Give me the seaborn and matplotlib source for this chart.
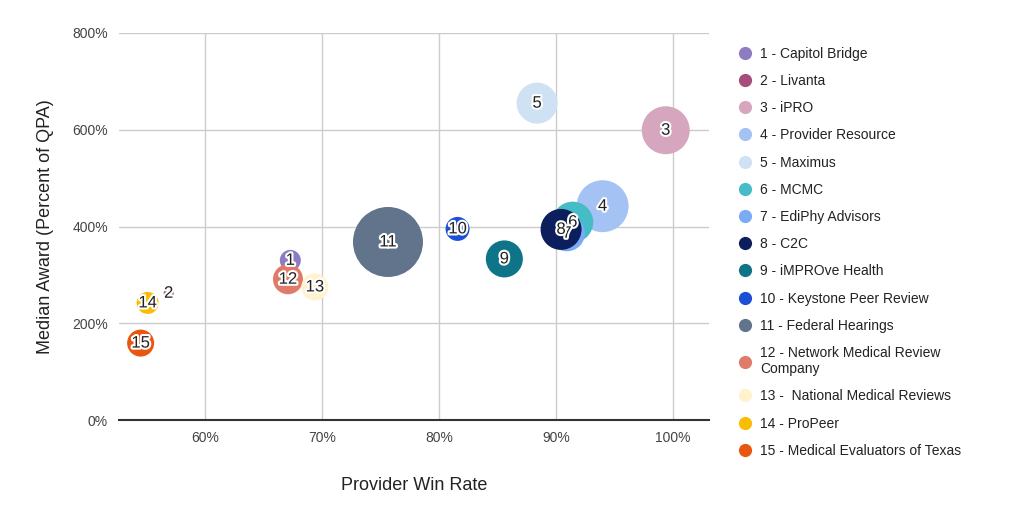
import matplotlib
matplotlib.use("Agg")
import matplotlib.pyplot as plt
import matplotlib.patheffects as pe
from matplotlib.lines import Line2D
from matplotlib.ticker import FuncFormatter
import seaborn as sns
import pandas as pd

# ---- data ----
ids = [str(i) for i in range(1, 16)]
names = [
    "1 - Capitol Bridge", "2 - Livanta", "3 - iPRO", "4 - Provider Resource",
    "5 - Maximus", "6 - MCMC", "7 - EdiPhy Advisors", "8 - C2C",
    "9 - iMPROve Health", "10 - Keystone Peer Review", "11 - Federal Hearings",
    "12 - Network Medical Review\nCompany", "13 -  National Medical Reviews",
    "14 - ProPeer", "15 - Medical Evaluators of Texas",
]
win_rate = [67.3, 56.9, 99.4, 94.0, 88.4, 91.45, 90.95, 90.45, 85.6, 81.6, 75.65, 67.1, 69.4, 55.1, 54.5]
median_award = [330, 262, 599, 442, 655, 409, 386, 394, 333, 395, 368, 291, 275, 242, 159]
bubble_size = [441, 100, 2300, 2700, 1680, 1680, 1300, 1680, 1370, 576, 4900, 900, 730, 484, 730]
colors = ["#8e7cc3", "#a64d79", "#d5a6bd", "#a4c2f4", "#cfe2f3", "#46bdc6", "#7baaf7",
          "#0c1f5c", "#0e7488", "#1c4fd8", "#62748c", "#e07b6a", "#fff2cc", "#fbbc04", "#e8560f"]
x_ticks = [60, 70, 80, 90, 100]
y_ticks = [0, 200, 400, 600, 800]

df = pd.DataFrame({"id": ids, "name": names, "win": win_rate,
                   "award": median_award, "size": bubble_size})

sns.set_theme(style="white")
plt.rcParams["font.family"] = ["Liberation Sans", "DejaVu Sans"]

fig = plt.figure(figsize=(10.24, 5.14), dpi=100)
ax = fig.add_axes([119 / 1024, 1 - 420 / 514, (709 - 119) / 1024, (420 - 33) / 514])

sns.scatterplot(data=df, x="win", y="award", hue="name", palette=colors,
                size="size", sizes=(0, 2540), size_norm=(0, 4900),
                linewidth=0, alpha=1, legend=False, ax=ax, zorder=3)

for i, r in df.iterrows():
    ax.text(r["win"], r["award"], r["id"], ha="center", va="center",
            fontsize=12, color="#222222", zorder=4,
            path_effects=[pe.withStroke(linewidth=3, foreground="white")])

ax.set_xlim(52.65, 103.1)
ax.set_ylim(0, 800)
ax.set_xticks(x_ticks)
ax.set_yticks(y_ticks)
ax.xaxis.set_major_formatter(FuncFormatter(lambda v, p: f"{v:.0f}%"))
ax.yaxis.set_major_formatter(FuncFormatter(lambda v, p: f"{v:.0f}%"))
ax.tick_params(axis="both", length=0, labelsize=10, labelcolor="#444444", pad=8)
ax.grid(True, color="#cccccc", linewidth=1)
ax.set_axisbelow(True)
for s in ["top", "right", "left"]:
    ax.spines[s].set_visible(False)
ax.spines["bottom"].set_color("#333333")
ax.spines["bottom"].set_linewidth(1.5)
ax.spines["bottom"].set_zorder(5)

ax.set_xlabel("Provider Win Rate", fontsize=13, color="#222222", labelpad=23)
ax.set_ylabel("Median Award (Percent of QPA)", fontsize=13, color="#222222", labelpad=13)

handles = [Line2D([0], [0], marker="o", linestyle="", markersize=9.5,
                  markerfacecolor=c, markeredgewidth=0) for c in colors]
fig.legend(handles, names, loc="upper left", bbox_to_anchor=(0.7207, 0.909),
           frameon=False, fontsize=10, labelspacing=0.95, handlelength=1.0,
           handletextpad=0.6, borderpad=0, borderaxespad=0, labelcolor="#222222")

fig.savefig("out.png", dpi=100)
